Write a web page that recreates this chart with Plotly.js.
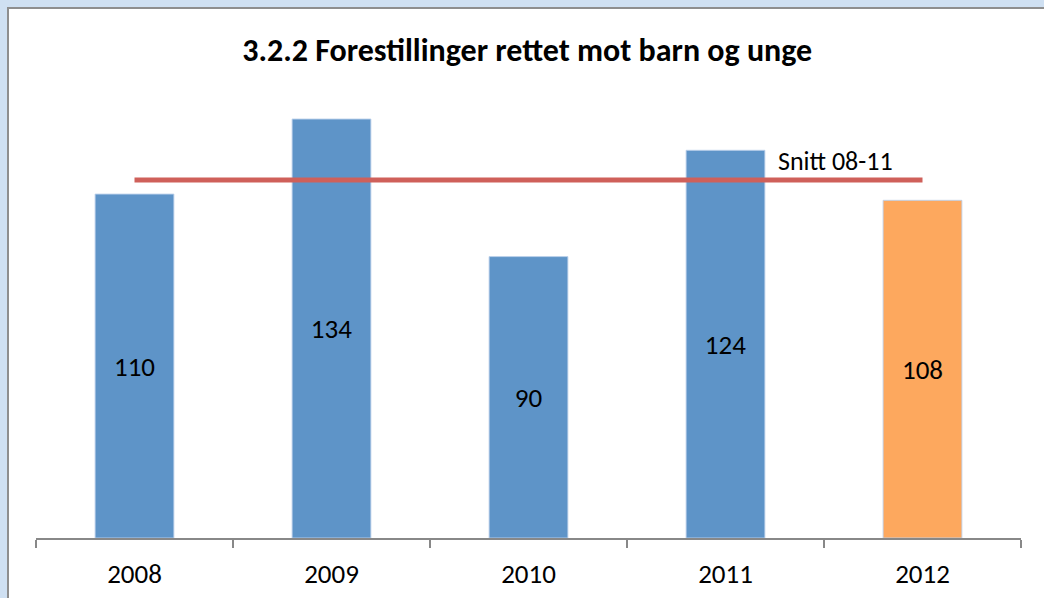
<!DOCTYPE html>
<html>
<head>
<meta charset="utf-8">
<script src="https://cdn.plot.ly/plotly-3.0.1.min.js"></script>
<style>
  html, body { margin: 0; padding: 0; width: 1044px; height: 598px; overflow: hidden; background: #cfe0f2; }
  #frame { position: absolute; left: 7px; top: 7px; width: 1100px; height: 700px; background: #ffffff; border-left: 2px solid #8e8e8e; border-top: 2px solid #8e8e8e; }
  #chart { position: absolute; left: 0; top: 0; width: 1044px; height: 598px; }
</style>
</head>
<body>
<div id="frame"></div>
<div id="chart"></div>
<script>
const years = ['2008', '2009', '2010', '2011', '2012'];
const values = [110, 134, 90, 124, 108];
const barColors = ['#5e94c8', '#5e94c8', '#5e94c8', '#5e94c8', '#fda85e'];
const snittValues = [114.5, 114.5, 114.5, 114.5, 114.5];
const snittLabel = 'Snitt 08-11';
const titleText = '3.2.2 Forestillinger rettet mot barn og unge';

const FONT = 'Carlito, "Open Sans", sans-serif';

const traces = [
  {
    type: 'bar',
    x: years,
    y: values,
    marker: { color: barColors, line: { color: 'rgba(190,210,235,0.9)', width: 1 } },
    text: values.map(String),
    textposition: 'inside',
    insidetextanchor: 'middle',
    textangle: 0,
    textfont: { family: FONT, size: 27, color: '#000000' },
    hoverinfo: 'x+y',
    showlegend: false
  },
  {
    type: 'scatter',
    mode: 'lines',
    x: years,
    y: snittValues,
    line: { color: '#cf605a', width: 5 },
    showlegend: false,
    hoverinfo: 'y'
  }
];

const layout = {
  width: 1044,
  height: 598,
  margin: { l: 36, r: 23, t: 69, b: 60 },
  paper_bgcolor: 'rgba(0,0,0,0)',
  plot_bgcolor: 'rgba(0,0,0,0)',
  bargap: 0.6,
  title: {
    text: '<b>' + titleText + '</b>',
    font: { family: FONT, size: 32, color: '#000000' },
    x: 0.505,
    xanchor: 'center',
    y: 0.917,
    yanchor: 'middle'
  },
  xaxis: {
    type: 'category',
    showline: true,
    linecolor: '#888888',
    linewidth: 1.5,
    ticks: 'outside',
    tickson: 'boundaries',
    ticklen: 8,
    tickcolor: '#888888',
    tickwidth: 1.5,
    ticklabelstandoff: 11,
    tickfont: { family: FONT, size: 27, color: '#000000' },
    showgrid: false,
    zeroline: false,
    fixedrange: true
  },
  yaxis: {
    range: [0, 150],
    visible: false,
    showgrid: false,
    zeroline: false,
    fixedrange: true
  },
  annotations: [
    {
      x: 3.5,
      y: snittValues[3],
      xref: 'x',
      yref: 'y',
      text: snittLabel,
      showarrow: false,
      xanchor: 'center',
      yanchor: 'bottom',
      xshift: 11,
      yshift: 1,
      font: { family: FONT, size: 26, color: '#000000' }
    }
  ]
};

Plotly.newPlot('chart', traces, layout, { displayModeBar: false, staticPlot: true });
</script>
</body>
</html>
